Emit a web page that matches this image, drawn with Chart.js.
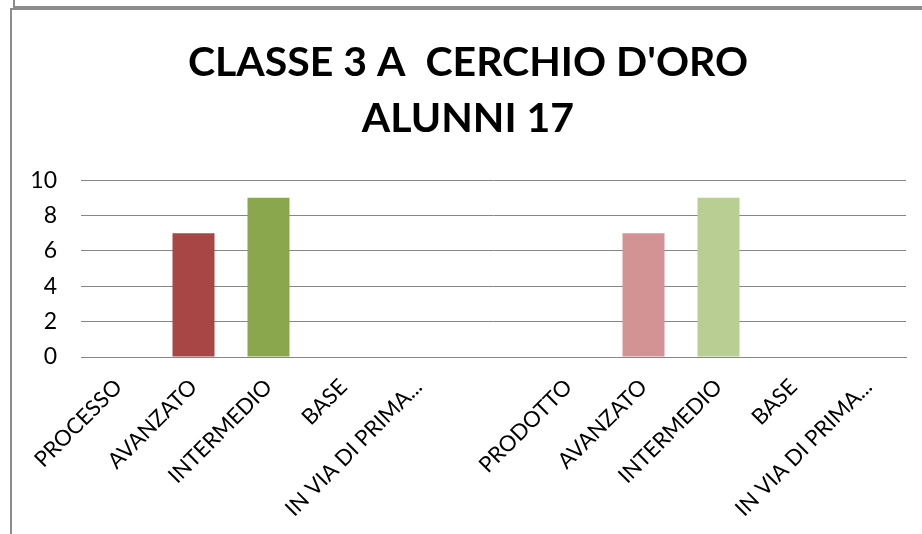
<!DOCTYPE html>
<html>
<head>
<meta charset="utf-8">
<script src="https://cdn.jsdelivr.net/npm/chart.js@4/dist/chart.umd.min.js"></script>
<style>
  html, body { margin: 0; padding: 0; background: #fff; }
  body { width: 922px; height: 534px; overflow: hidden; position: relative; }
  .frame-top { position: absolute; left: 13px; top: -12px; width: 1000px; height: 16px; border: 2px solid #8c8c8c; }
  .frame { position: absolute; left: 10px; top: 8px; width: 1000px; height: 600px; border: 2px solid #8c8c8c; }
  #chart { position: absolute; left: 0; top: 0; }
</style>
</head>
<body>
<div class="frame-top"></div>
<div class="frame"></div>
<canvas id="chart" width="922" height="534"></canvas>
<script>
  // ---- data ----
  const TITLE_LINES = ["CLASSE 3 A  CERCHIO D'ORO", "ALUNNI 17"];
  const CATEGORIES = ["PROCESSO", "AVANZATO", "INTERMEDIO", "BASE", "IN VIA DI PRIMA...", "",
                      "PRODOTTO", "AVANZATO", "INTERMEDIO", "BASE", "IN VIA DI PRIMA..."];
  const VALUES = [0, 7, 9, 0, 0, null, 0, 7, 9, 0, 0];
  const BAR_COLORS = ["#a84646", "#a84646", "#8ba74e", "#a84646", "#a84646", "#ffffff",
                      "#d39394", "#d39394", "#b9ce93", "#d39394", "#d39394"];
  const Y_TICKS = [0, 2, 4, 6, 8, 10];

  const GRID = "#868686";
  const FONT = "Lato, 'Open Sans', sans-serif";

  new Chart(document.getElementById("chart"), {
    type: "bar",
    data: {
      labels: CATEGORIES,
      datasets: [{ data: VALUES, backgroundColor: BAR_COLORS, borderWidth: 0,
                   barPercentage: 0.56, categoryPercentage: 1 }]
    },
    options: {
      responsive: false,
      animation: false,
      layout: { padding: { left: 30, right: 16, top: 20, bottom: 0 } },
      plugins: {
        legend: { display: false },
        tooltip: { enabled: false },
        title: {
          display: true,
          text: TITLE_LINES,
          color: "#000",
          font: { family: FONT, size: 41, weight: "bold", lineHeight: 1.38 },
          padding: { top: 14, bottom: 33 }
        }
      },
      scales: {
        x: {
          grid: { display: false },
          border: { display: true, color: GRID, width: 1 },
          ticks: {
            autoSkip: false, minRotation: 45, maxRotation: 45,
            color: "#000", padding: 9,
            font: { family: FONT, size: 22 }
          },
          afterFit: (s) => { s.height = 177; }
        },
        y: {
          min: 0, max: 10,
          afterBuildTicks: (s) => { s.ticks = Y_TICKS.map(v => ({ value: v })); },
          grid: { color: GRID, lineWidth: 1, drawTicks: false },
          border: { display: false },
          ticks: { color: "#000", padding: 24, font: { family: FONT, size: 23 } },
          afterFit: (s) => { s.width = 51; }
        }
      }
    }
  });
</script>
</body>
</html>
